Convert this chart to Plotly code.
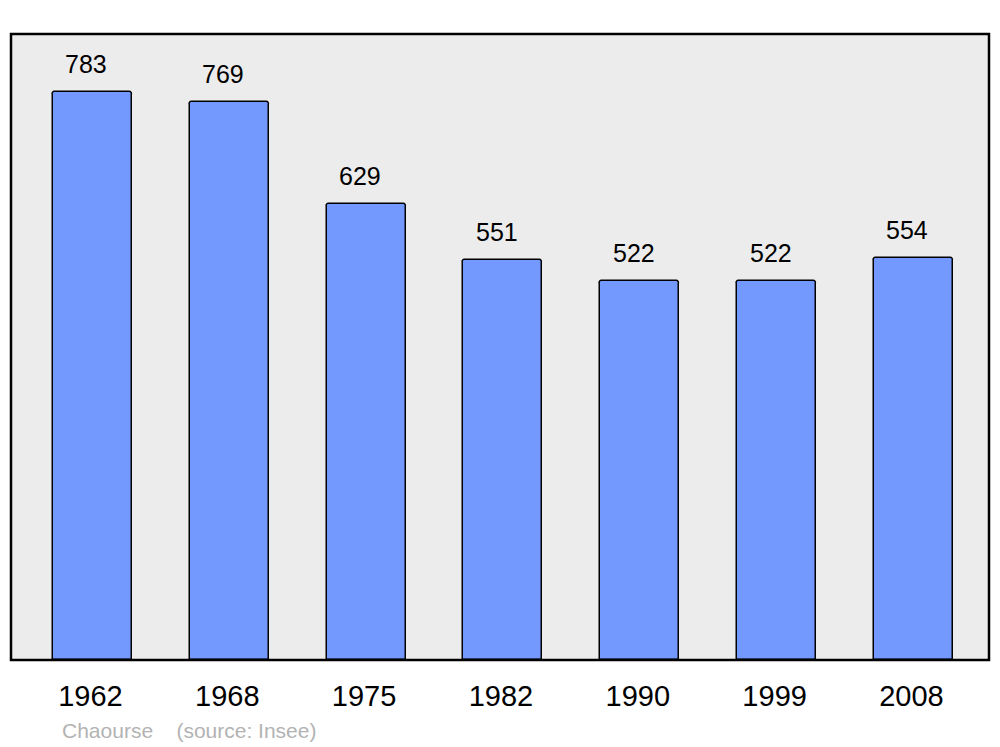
import plotly.graph_objects as go

years = ["1962", "1968", "1975", "1982", "1990", "1999", "2008"]
population = [783, 769, 629, 551, 522, 522, 554]
source_text = "Chaourse    (source: Insee)"

FONT = "Liberation Sans, Arial, sans-serif"

fig = go.Figure()
fig.add_trace(go.Bar(
    x=years, y=population,
    width=0.577,
    marker=dict(color="#7399FF", line=dict(color="#000000", width=1.5), cornerradius=3),
    hoverinfo="x+y",
))

for i, v in enumerate(population):
    fig.add_annotation(x=i, y=v, text=str(v), showarrow=False,
                       xref="x", yref="y", yanchor="bottom", yshift=12, xshift=-6,
                       font=dict(family=FONT, size=25, color="#000000"))

fig.add_annotation(x=(60 - 11) / 978, y=-(730 - 660) / 626, xref="paper", yref="paper",
                   xanchor="left", yanchor="middle", showarrow=False, text=source_text,
                   font=dict(family=FONT, size=21, color="#B3B3B3"))

fig.add_shape(type="rect", xref="paper", yref="paper", x0=0, y0=0, x1=1, y1=1,
              line=dict(color="#000000", width=2.5), layer="above")

fig.update_layout(
    width=1000, height=747,
    margin=dict(l=11, r=11, t=34, b=87),
    paper_bgcolor="#FFFFFF", plot_bgcolor="#ECECEC",
    showlegend=False,
    bargap=0,
    xaxis=dict(type="category", range=[-0.595, 6.552], showgrid=False, zeroline=False,
               ticks="outside", ticklen=10, tickcolor="rgba(0,0,0,0)", ticklabelshift=-2,
               tickfont=dict(family=FONT, size=29, color="#000000"), showline=False),
    yaxis=dict(range=[0, 863], showgrid=False, zeroline=False, showticklabels=False,
               ticks="", showline=False),
)

fig.write_html("out.html", config={"displayModeBar": False},
               post_script="document.body.style.margin='0';")
